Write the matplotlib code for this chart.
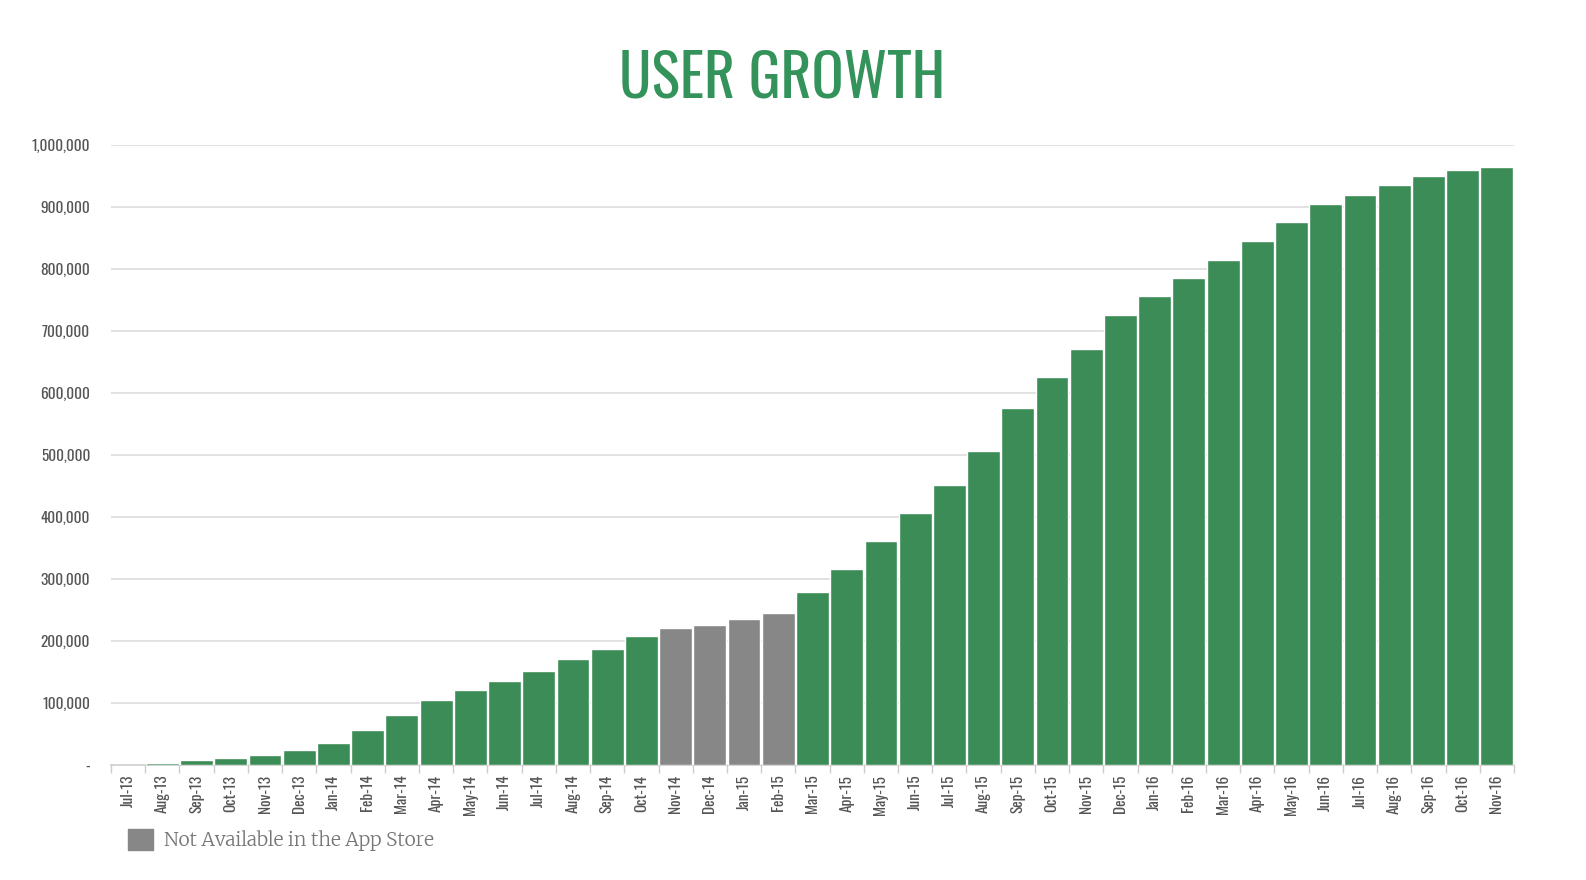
import matplotlib.pyplot as plt
import matplotlib.patches as mpatches
from matplotlib import font_manager
from matplotlib.ticker import FuncFormatter
import numpy as np

months = ["Jul-13", "Aug-13", "Sep-13", "Oct-13", "Nov-13", "Dec-13",
          "Jan-14", "Feb-14", "Mar-14", "Apr-14", "May-14", "Jun-14",
          "Jul-14", "Aug-14", "Sep-14", "Oct-14", "Nov-14", "Dec-14",
          "Jan-15", "Feb-15", "Mar-15", "Apr-15", "May-15", "Jun-15",
          "Jul-15", "Aug-15", "Sep-15", "Oct-15", "Nov-15", "Dec-15",
          "Jan-16", "Feb-16", "Mar-16", "Apr-16", "May-16", "Jun-16",
          "Jul-16", "Aug-16", "Sep-16", "Oct-16", "Nov-16"]
users = [0, 3000, 8000, 11000, 16000, 24000,
         35000, 56000, 80000, 105000, 121000, 135000,
         151000, 171000, 187000, 208000, 221000, 226000,
         235000, 245000, 279000, 316000, 361000, 406000,
         452000, 506000, 576000, 626000, 671000, 726000,
         756000, 785000, 815000, 845000, 876000, 905000,
         919000, 935000, 950000, 960000, 965000]
# months when the app was pulled from the App Store
unavailable = ["Nov-14", "Dec-14", "Jan-15", "Feb-15"]

GREEN = "#3b8c56"
GREY = "#878787"

installed = {f.name for f in font_manager.fontManager.ttflist}


def pick(*fams):
    for f in fams:
        if f in installed:
            return f
    return "DejaVu Sans"


TITLE_FONT = pick("Oswald", "Roboto Condensed", "Archivo Narrow")
TICK_FONT = pick("Oswald", "Roboto Condensed", "Archivo Narrow")
LEGEND_FONT = pick("Merriweather", "Noto Serif", "DejaVu Serif")

fig = plt.figure(figsize=(15.86, 8.8), dpi=100)
ax = fig.add_axes([0.070, 0.1307, 0.8846, 0.7045])

x = np.arange(len(months))
colors = [GREY if m in unavailable else GREEN for m in months]
ax.bar(x, users, width=0.96, color=colors, edgecolor="white", linewidth=1.0, zorder=3)

ax.set_xlim(-0.5, len(months) - 0.5)
ax.set_ylim(0, 1_000_000)
ax.set_yticks(np.arange(0, 1_000_001, 100_000))
ax.yaxis.set_major_formatter(FuncFormatter(lambda v, p: "-" if v == 0 else f"{int(v):,}"))
ax.grid(axis="y", color="#dddddd", linewidth=1.2, zorder=0)

ax.set_xticks(x)
ax.set_xticklabels(months, rotation=90, fontsize=11, color="#555555",
                   family=TICK_FONT, fontweight=300)
ax.set_xticks(np.arange(-0.5, len(months), 1), minor=True)
ax.tick_params(axis="x", which="major", length=0, pad=7)
ax.tick_params(axis="x", which="minor", length=6, color="#cccccc", width=1)
ax.tick_params(axis="y", length=0, pad=15, labelsize=11, labelcolor="#555555")
for lbl in ax.get_yticklabels():
    lbl.set_family(TICK_FONT)
    lbl.set_fontweight(300)

for side in ["top", "right", "left"]:
    ax.spines[side].set_visible(False)
ax.spines["bottom"].set_color("#cccccc")
ax.spines["bottom"].set_linewidth(1.2)

fig.text(0.493, 0.91, "USER GROWTH", ha="center", va="center", fontsize=43,
         color="#33935a", family=TITLE_FONT)

patch = mpatches.Patch(color=GREY, label="Not Available in the App Store")
fig.legend(handles=[patch], loc="center left", bbox_to_anchor=(0.070, 0.045),
           frameon=False, handlelength=1.3, handleheight=1.3, handletextpad=0.55,
           prop={"family": LEGEND_FONT, "size": 13.8}, labelcolor="#777777")

fig.savefig("out.png", dpi=100)
